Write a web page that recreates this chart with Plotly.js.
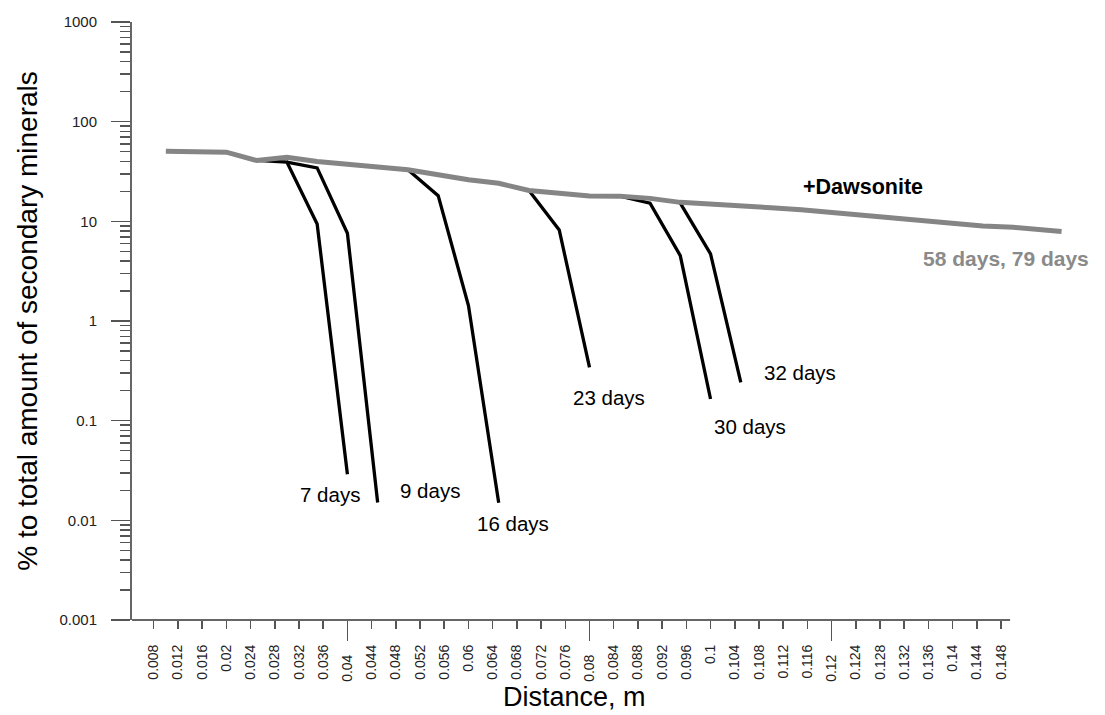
<!DOCTYPE html>
<html>
<head>
<meta charset="utf-8">
<script src="https://cdn.plot.ly/plotly-3.0.1.min.js"></script>
<style>html,body{margin:0;padding:0;background:#fff;}#chart{width:1105px;height:715px;}</style>
</head>
<body>
<div id="chart"></div>
<script>
// ---- data ----
var dawsoniteX = [0.01, 0.015, 0.02, 0.025, 0.03, 0.035, 0.04, 0.045, 0.05, 0.055, 0.06, 0.065, 0.07, 0.075, 0.08, 0.085, 0.09, 0.095, 0.1, 0.105, 0.11, 0.115, 0.12, 0.125, 0.13, 0.135, 0.14, 0.145, 0.15, 0.155, 0.158];
var dawsoniteY = [50.6, 50.6, 49.4, 40.8, 44.0, 39.8, 37.4, 35.7, 32.9, 29.3, 26.1, 24.1, 20.4, 19.1, 18.0, 17.9, 17.0, 15.5, 15.0, 14.4, 13.7, 13.1, 12.3, 11.8, 11.0, 10.2, 9.6, 9.0, 8.7, 8.3, 7.9];

var days7X = [0.025, 0.03, 0.035, 0.04];
var days7Y = [40.8, 39.3, 9.4, 0.029];
var days9X = [0.03, 0.035, 0.04, 0.045];
var days9Y = [39.3, 34.4, 7.6, 0.0151];
var days16X = [0.05, 0.055, 0.06, 0.065];
var days16Y = [32.9, 18.1, 1.43, 0.015];
var days23X = [0.07, 0.075, 0.08];
var days23Y = [20.4, 8.2, 0.342];
var days30X = [0.085, 0.09, 0.095, 0.1];
var days30Y = [17.9, 15.2, 4.53, 0.165];
var days32X = [0.095, 0.1, 0.105];
var days32Y = [15.2, 4.71, 0.242];

// tick labels
var xTickVals = [0.008, 0.012, 0.016, 0.02, 0.024, 0.028, 0.032, 0.036, 0.044, 0.048, 0.052, 0.056, 0.06, 0.064, 0.068, 0.072, 0.076, 0.084, 0.088, 0.092, 0.096, 0.1, 0.104, 0.108, 0.112, 0.116, 0.124, 0.128, 0.132, 0.136, 0.14, 0.144, 0.148];
var xTickText = ['0.008', '0.012', '0.016', '0.02', '0.024', '0.028', '0.032', '0.036', '0.044', '0.048', '0.052', '0.056', '0.06', '0.064', '0.068', '0.072', '0.076', '0.084', '0.088', '0.092', '0.096', '0.1', '0.104', '0.108', '0.112', '0.116', '0.124', '0.128', '0.132', '0.136', '0.14', '0.144', '0.148'];
var xMajorVals = [0.04, 0.08, 0.12];
var xMajorText = ['0.04', '0.08', '0.12'];
var yTickVals = [0.001, 0.01, 0.1, 1, 10, 100, 1000];
var yTickText = ['0.001', '0.01', '0.1', '1', '10', '100', '1000'];

var labelTexts = ['7 days', '9 days', '16 days', '23 days', '30 days', '32 days'];
var labelX = [0.0371, 0.0537, 0.0674, 0.0833, 0.1065, 0.1148];
var labelY = [0.018, 0.0197, 0.0094, 0.171, 0.0867, 0.305];

// ---- chart ----
var FONT = 'Liberation Sans, Arial, sans-serif';
var XR = [0.004408, 0.16022];

function blackTrace(x, y, name) {
  return {x: x, y: y, name: name, type: 'scatter', mode: 'lines',
          line: {color: '#000000', width: 3.3}, hoverinfo: 'skip'};
}

var traces = [
  blackTrace(days7X, days7Y, '7 days'),
  blackTrace(days9X, days9Y, '9 days'),
  blackTrace(days16X, days16Y, '16 days'),
  blackTrace(days23X, days23Y, '23 days'),
  blackTrace(days30X, days30Y, '30 days'),
  blackTrace(days32X, days32Y, '32 days'),
  {x: dawsoniteX, y: dawsoniteY, name: '58 days, 79 days', type: 'scatter', mode: 'lines',
   line: {color: '#858585', width: 5}, hoverinfo: 'skip'}
];

var annotations = [];
for (var i = 0; i < labelTexts.length; i++) {
  annotations.push({x: labelX[i], y: Math.log10(labelY[i]), xref: 'x', yref: 'y',
    xanchor: 'center', yanchor: 'middle',
    text: labelTexts[i], showarrow: false, font: {family: FONT, size: 20.5, color: '#000'}});
}
annotations.push({x: 0.1252, y: Math.log10(22), xref: 'x', yref: 'y', text: '<b>+Dawsonite</b>',
  xanchor: 'center', yanchor: 'middle',
  showarrow: false, font: {family: FONT, size: 21.5, color: '#000'}});
annotations.push({x: 0.1489, y: Math.log10(4.2), xref: 'x', yref: 'y', text: '<b>58 days, 79 days</b>',
  xanchor: 'center', yanchor: 'middle',
  showarrow: false, font: {family: FONT, size: 21, color: '#8a8a8a'}});
annotations.push({x: (574.5 - 132) / 943, y: -(697 - 620) / 598, xref: 'paper', yref: 'paper',
  xanchor: 'center', yanchor: 'middle',
  text: 'Distance, m', showarrow: false, font: {family: FONT, size: 27, color: '#000'}});

var layout = {
  width: 1105, height: 715,
  margin: {l: 132, r: 30, t: 22, b: 95},
  paper_bgcolor: '#ffffff', plot_bgcolor: '#ffffff',
  showlegend: false,
  font: {family: FONT, color: '#000'},
  xaxis: {
    range: XR, tickmode: 'array', tickvals: xTickVals, ticktext: xTickText,
    ticks: 'outside', ticklen: 8, tickwidth: 1.5, tickcolor: '#555',
    tickangle: -90, tickfont: {family: FONT, size: 14, color: '#222'},
    ticklabelstandoff: 10,
    showline: false, showgrid: false, zeroline: false
  },
  xaxis2: {
    overlaying: 'x', anchor: 'y', side: 'bottom',
    range: XR, tickmode: 'array', tickvals: xMajorVals, ticktext: xMajorText,
    ticks: 'outside', ticklen: 20, tickwidth: 1.5, tickcolor: '#555',
    tickangle: -90, tickfont: {family: FONT, size: 14, color: '#222'},
    ticklabelstandoff: 8,
    showline: false, showgrid: false, zeroline: false
  },
  yaxis: {
    type: 'log', range: [-3, 3], tickmode: 'array', tickvals: yTickVals, ticktext: yTickText,
    ticks: 'outside', ticklen: 19, tickwidth: 1.5, tickcolor: '#555',
    tickfont: {family: FONT, size: 15, color: '#222'},
    ticklabelstandoff: 11,
    showline: true, linecolor: '#666', linewidth: 2,
    showgrid: false, zeroline: false,
    minor: {dtick: 'D1', ticks: 'outside', ticklen: 10, tickwidth: 1.5, tickcolor: '#555', showgrid: false},
    title: {text: '% to total amount of secondary minerals', font: {family: FONT, size: 28, color: '#000'}, standoff: 14}
  },
  shapes: [
    {type: 'line', xref: 'x', yref: 'paper', x0: XR[0], x1: 0.1495, y0: 0, y1: 0,
     line: {color: '#666', width: 2}}
  ],
  annotations: annotations
};

// invisible point so that the overlaid xaxis2 (long ticks at 0.04, 0.08, 0.12) is drawn
traces.push({x: [0.05], y: [1], xaxis: 'x2', yaxis: 'y', type: 'scatter', mode: 'markers',
  marker: {opacity: 0}, hoverinfo: 'skip', showlegend: false});

Plotly.newPlot('chart', traces, layout, {staticPlot: true});
</script>
</body>
</html>
